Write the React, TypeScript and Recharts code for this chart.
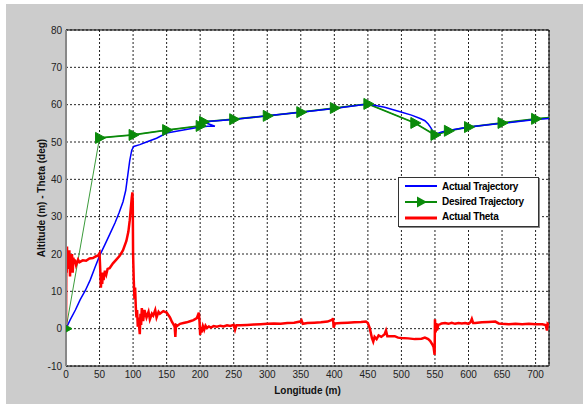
import React from 'react';
import { LineChart, Line, XAxis, YAxis, CartesianGrid, ReferenceLine } from 'recharts';

// longitude / altitude pairs for the blue "actual" path (note small hook near 200-220)
const ACTUAL_TRAJ_X = [0, 6, 14, 21, 29, 36, 43, 50, 58, 66, 73, 79, 85, 89, 92, 95, 98, 101, 110, 120, 135, 150, 175, 200, 215, 222, 212, 205, 250, 300, 350, 400, 450, 475, 498, 515, 528, 535, 540, 544, 547, 551, 560, 570, 600, 650, 700, 720];
const ACTUAL_TRAJ_Y = [0, 2.3, 5, 7.7, 10.3, 13, 16.3, 19.5, 22.5, 25.6, 28.3, 31, 34, 37, 41, 45, 47.8, 48.8, 49.3, 50, 51, 52.4, 53.2, 54, 54.3, 54.2, 54.9, 55.4, 56, 57, 58, 59, 60.2, 59.3, 58.1, 57.2, 56.3, 55.7, 54.8, 53.8, 52.8, 52.1, 52.7, 53.1, 54, 55, 56, 56.3];

const DESIRED_X = [0, 50, 100, 150, 200, 205, 250, 300, 350, 400, 450, 520, 550, 570, 600, 650, 700, 720];
const DESIRED_Y = [0, 51.1, 51.9, 53.2, 54.3, 55.4, 56.1, 57, 58, 59.1, 60.2, 55.1, 51.9, 53, 54, 55.1, 56.2, 56.5];

const THETA_X = [0, 0.5, 1, 1.5, 2, 3, 4, 5, 6, 7, 8, 9, 10, 11, 12, 13, 15, 18, 20, 25, 30, 35, 40, 45, 48, 50, 51, 52, 53, 54, 55, 56, 58, 60, 62, 65, 68, 70, 75, 80, 85, 90, 93, 95, 97, 98, 99, 99.5, 100, 101, 102, 103, 104, 105, 106, 107, 108, 110, 111, 112, 113, 115, 117, 120, 123, 125, 128, 130, 133, 135, 138, 140, 145, 150, 155, 158, 160, 162, 163, 164, 166, 170, 175, 180, 185, 190, 195, 198, 199, 200, 201, 202, 204, 206, 208, 210, 213, 216, 220, 225, 230, 235, 240, 245, 250, 252, 254, 260, 270, 280, 290, 300, 310, 320, 330, 340, 349, 351, 353, 360, 370, 380, 390, 397, 398, 399, 401, 410, 420, 430, 440, 447, 450, 453, 456, 458, 460, 463, 466, 470, 475, 477, 479, 485, 490, 495, 500, 510, 520, 530, 535, 540, 543, 546, 548, 549.5, 550, 551, 552, 553, 555, 558, 560, 565, 570, 575, 580, 585, 590, 595, 600, 603, 605, 607, 610, 620, 630, 640, 645, 650, 660, 670, 680, 690, 700, 710, 715, 717, 718, 720];
const THETA_Y = [0, 21, 15, 22, 17, 20.5, 16, 21, 14, 19, 17, 20, 15, 19, 17.5, 18.5, 17, 18.5, 17.8, 18.3, 18.2, 18.8, 18.9, 19.4, 19.6, 20.2, 16, 11, 14, 12, 15, 13, 15.5, 14.5, 16, 16.2, 17, 17.5, 18.5, 19.5, 21, 23.5, 26, 29, 33, 35, 36.5, 34, 20, 13, 8, 11, 6, 3, 5, 0.5, 3, -1.5, 4, 1, 5.5, 2, 5, 3, 4.5, 2.5, 4, 3.5, 5, 3, 4.5, 4, 4.7, 4.3, 3, 1.8, 1.2, 0.5, -2.2, 1, 0.8, 1.3, 1.5, 1.7, 2, 2.3, 2.8, 4.3, 2, -1.7, 0.5, -1, 0.7, -0.3, 0.8, 0.2, 0.6, 0.3, 0.7, 0.5, 0.8, 0.6, 0.9, 0.7, 1, -0.3, 0.9, 0.9, 1, 1.1, 1.2, 1.3, 1.4, 1.3, 1.5, 1.6, 1.9, 2.3, 1.3, 1.5, 1.6, 1.7, 1.9, 2.4, 2.8, 0.3, 1.4, 1.5, 1.6, 1.7, 1.8, 1.9, 1.5, 0, -2.5, -3.5, -2.2, -2.8, -1.8, -2.2, -1.5, -0.5, -2, -2, -2, -2.4, -2.5, -2.6, -2.8, -2.7, -2.4, -2.8, -3.3, -4.2, -5, -7, 2.5, -1, 1.5, -0.5, 1, 1.2, 1.4, 1.5, 1.3, 1.6, 1.3, 1.5, 1.4, 1.5, 1.3, 1.7, 2.6, 1.5, 1.5, 1.7, 1.8, 1.9, 1.4, 1.3, 1.2, 1.3, 1.2, 1.3, 1.2, 1.2, 1, -0.5, 1.3, 1];

const X_TICKS = [0, 50, 100, 150, 200, 250, 300, 350, 400, 450, 500, 550, 600, 650, 700];
const Y_TICKS = [-10, 0, 10, 20, 30, 40, 50, 60, 70, 80];

const pairs = (xs: number[], ys: number[]) => xs.map((x, i) => ({ x, y: ys[i] }));

const actualTraj = pairs(ACTUAL_TRAJ_X, ACTUAL_TRAJ_Y);
const desiredTraj = pairs(DESIRED_X, DESIRED_Y);
const desiredMain = desiredTraj.slice(1);
const actualTheta = pairs(THETA_X, THETA_Y);

const FONT = "'Liberation Sans', Arial, sans-serif";
const NARROW = "'Liberation Sans Narrow', 'Liberation Sans', Arial, sans-serif";
const GREEN = '#0a8a0a';

// right-pointing triangle, skipped on the last point
const TriangleDot = (props: any) => {
  const { cx, cy, index } = props;
  if (index === desiredTraj.length - 1 || cx == null) return <g key={`d${index}`} />;
  return (
    <path
      key={`d${index}`}
      d={`M${cx - 4},${cy - 5.5} L${cx + 6},${cy} L${cx - 4},${cy + 5.5} Z`}
      fill={GREEN}
      stroke={GREEN}
    />
  );
};

const LegendBox = () => (
  <div
    style={{
      position: 'absolute', left: 398, top: 177, width: 139, height: 48,
      background: '#fff', border: '1px solid #333', boxShadow: '1px 1px 0 #888',
      fontFamily: NARROW, fontWeight: 'bold', fontSize: 10, color: '#000', letterSpacing: -0.3,
    }}
  >
    <svg width={40} height={48} style={{ position: 'absolute', left: 0, top: 0 }}>
      <line x1={6} y1={8} x2={38} y2={8} stroke="#0000ff" strokeWidth={2} />
      <line x1={6} y1={24} x2={38} y2={24} stroke={GREEN} strokeWidth={2} />
      <path d="M18,18.5 L28,24 L18,29.5 Z" fill={GREEN} />
      <line x1={6} y1={40} x2={38} y2={40} stroke="#ff0000" strokeWidth={3} />
    </svg>
    <div style={{ position: 'absolute', left: 43, top: 1, lineHeight: '15px' }}>
      <div>Actual Trajectory</div>
      <div>Desired Trajectory</div>
      <div>Actual Theta</div>
    </div>
  </div>
);

const App: React.FC = () => {
  return (
    <div style={{ position: 'absolute', left: 0, top: 0, width: 583, height: 406, background: '#fff' }}>
      <div style={{ position: 'absolute', left: 6, top: 4, width: 577, height: 400, background: '#cccccc' }} />
      <div style={{ position: 'absolute', left: 0, top: 0 }}>
        <LineChart width={583} height={406} margin={{ top: 30, right: 34, bottom: 0, left: 6 }}>
          <CartesianGrid stroke="#222" strokeDasharray="2 2" fill="#fff" />
          <XAxis
            type="number"
            dataKey="x"
            domain={[0, 720]}
            ticks={X_TICKS}
            allowDataOverflow
            height={40}
            tickSize={0}
            tickMargin={5}
            axisLine={{ stroke: '#000' }}
            tick={{ fontSize: 10, fill: '#222', fontFamily: FONT }}
            label={{ value: 'Longitude (m)', position: 'center', dy: 4, fontSize: 10, fontWeight: 'bold', fill: '#111', fontFamily: FONT }}
          />
          <YAxis
            type="number"
            dataKey="y"
            domain={[-10, 80]}
            ticks={Y_TICKS}
            allowDataOverflow
            width={60}
            tickSize={0}
            tickMargin={4}
            axisLine={{ stroke: '#888', strokeWidth: 2 }}
            tick={{ fontSize: 10, fill: '#222', fontFamily: FONT }}
            label={{ value: 'Altitude (m) - Theta (deg)', angle: -90, position: 'center', dx: 5, fontSize: 10, fontWeight: 'bold', fill: '#111', fontFamily: FONT }}
          />
          <ReferenceLine y={80} stroke="#000" />
          <ReferenceLine x={720} stroke="#000" />
          <Line
            data={desiredTraj}
            dataKey="y"
            stroke="#3b9b3b"
            strokeWidth={1}
            dot={TriangleDot}
            isAnimationActive={false}
          />
          <Line
            data={desiredMain}
            dataKey="y"
            stroke={GREEN}
            strokeWidth={1.8}
            dot={false}
            isAnimationActive={false}
          />
          <Line
            data={actualTraj}
            dataKey="y"
            stroke="#0000ff"
            strokeWidth={1.5}
            dot={false}
            isAnimationActive={false}
          />
          <Line
            data={actualTheta}
            dataKey="y"
            stroke="#ff0000"
            strokeWidth={2.5}
            dot={false}
            isAnimationActive={false}
          />
        </LineChart>
      </div>
      <LegendBox />
    </div>
  );
};

export default App;
